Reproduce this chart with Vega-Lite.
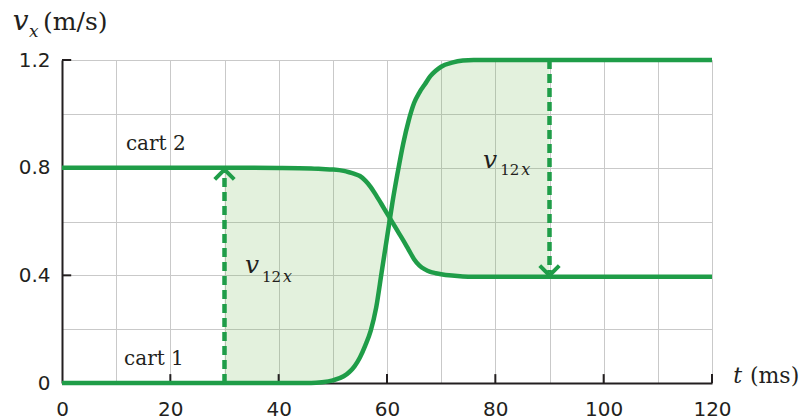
{
  "$schema": "https://vega.github.io/schema/vega-lite/v6.json",
  "width": 650,
  "height": 323,
  "autosize": "none",
  "padding": {"left": 62, "top": 60, "right": 89, "bottom": 36},
  "background": "white",
  "config": {
    "view": {"stroke": null},
    "text": {"font": "DejaVu Serif", "color": "#231f20", "align": "left", "baseline": "alphabetic"}
  },
  "datasets": {
    "carts": [
      {"t": 0, "cart1": 0, "cart2": 0.8},
      {"t": 10, "cart1": 0, "cart2": 0.8},
      {"t": 20, "cart1": 0, "cart2": 0.8},
      {"t": 30, "cart1": 0, "cart2": 0.8},
      {"t": 40, "cart1": 0, "cart2": 0.799},
      {"t": 46, "cart1": 0, "cart2": 0.797},
      {"t": 48, "cart1": 0.003, "cart2": 0.795},
      {"t": 50, "cart1": 0.01, "cart2": 0.793},
      {"t": 52, "cart1": 0.025, "cart2": 0.788},
      {"t": 53, "cart1": 0.04, "cart2": 0.783},
      {"t": 54, "cart1": 0.062, "cart2": 0.777},
      {"t": 55, "cart1": 0.095, "cart2": 0.769},
      {"t": 56, "cart1": 0.14, "cart2": 0.752},
      {"t": 57, "cart1": 0.195, "cart2": 0.728},
      {"t": 58, "cart1": 0.28, "cart2": 0.697},
      {"t": 59, "cart1": 0.41, "cart2": 0.664},
      {"t": 60, "cart1": 0.54, "cart2": 0.63},
      {"t": 61, "cart1": 0.67, "cart2": 0.597},
      {"t": 62, "cart1": 0.785, "cart2": 0.563},
      {"t": 63, "cart1": 0.89, "cart2": 0.53},
      {"t": 64, "cart1": 0.975, "cart2": 0.495},
      {"t": 65, "cart1": 1.04, "cart2": 0.46},
      {"t": 66, "cart1": 1.08, "cart2": 0.436},
      {"t": 67, "cart1": 1.11, "cart2": 0.422},
      {"t": 68, "cart1": 1.14, "cart2": 0.413},
      {"t": 69, "cart1": 1.16, "cart2": 0.408},
      {"t": 70, "cart1": 1.175, "cart2": 0.404},
      {"t": 72, "cart1": 1.19, "cart2": 0.399},
      {"t": 74, "cart1": 1.198, "cart2": 0.396},
      {"t": 76, "cart1": 1.2, "cart2": 0.395},
      {"t": 80, "cart1": 1.2, "cart2": 0.395},
      {"t": 90, "cart1": 1.2, "cart2": 0.395},
      {"t": 100, "cart1": 1.2, "cart2": 0.395},
      {"t": 110, "cart1": 1.2, "cart2": 0.395},
      {"t": 120, "cart1": 1.2, "cart2": 0.395}
    ],
    "xticks": [{"t": 20}, {"t": 40}, {"t": 60}, {"t": 80}, {"t": 100}, {"t": 120}],
    "yticks": [{"v": 0.4}, {"v": 0.8}, {"v": 1.2}],
    "one": [{}]
  },
  "layer": [
    {
      "data": {"name": "carts"},
      "transform": [{"filter": "datum.t >= 30 && datum.t <= 90"}],
      "mark": {"type": "area", "interpolate": "monotone", "fill": "#73b955", "fillOpacity": 0.2},
      "encoding": {
        "x": {
          "field": "t", "type": "quantitative",
          "scale": {"domain": [0, 120], "nice": false},
          "axis": {
            "title": null,
            "values": [0, 10, 20, 30, 40, 50, 60, 70, 80, 90, 100, 110, 120],
            "grid": true, "gridColor": "#c9c9c9", "gridWidth": 1,
            "domainColor": "#231f20", "domainWidth": 2,
            "ticks": false,
            "labelExpr": "datum.value % 20 === 0 ? datum.label : ''",
            "labelFont": "DejaVu Sans", "labelFontSize": 20, "labelColor": "#231f20",
            "labelPadding": 16, "labelFlush": false, "labelOverlap": false
          }
        },
        "y": {
          "field": "cart1", "type": "quantitative",
          "scale": {"domain": [0, 1.2], "nice": false},
          "axis": {
            "title": null,
            "values": [0, 0.2, 0.4, 0.6, 0.8, 1.0, 1.2],
            "grid": true, "gridColor": "#c9c9c9", "gridWidth": 1,
            "domainColor": "#231f20", "domainWidth": 2,
            "ticks": false,
            "format": ".1f",
            "labelExpr": "datum.value === 0 ? '0' : (indexof([0.4, 0.8, 1.2], datum.value) >= 0 ? datum.label : '')",
            "labelFont": "DejaVu Sans", "labelFontSize": 20, "labelColor": "#231f20",
            "labelPadding": 12, "labelFlush": false, "labelOverlap": false
          }
        },
        "y2": {"field": "cart2"}
      }
    },
    {
      "data": {"name": "xticks"},
      "mark": {"type": "rule", "color": "#231f20", "strokeWidth": 2},
      "encoding": {
        "x": {"field": "t", "type": "quantitative", "title": null},
        "y": {"datum": 0},
        "y2": {"datum": 0.033}
      }
    },
    {
      "data": {"name": "yticks"},
      "mark": {"type": "rule", "color": "#231f20", "strokeWidth": 2},
      "encoding": {
        "y": {"field": "v", "type": "quantitative", "title": null},
        "x": {"datum": 0},
        "x2": {"datum": 1.7}
      }
    },
    {
      "data": {"name": "carts"},
      "mark": {"type": "line", "interpolate": "monotone", "color": "#1f9d48", "strokeWidth": 4.5},
      "encoding": {
        "x": {"field": "t", "type": "quantitative", "title": null},
        "y": {"field": "cart1", "type": "quantitative", "title": null}
      }
    },
    {
      "data": {"name": "carts"},
      "mark": {"type": "line", "interpolate": "monotone", "color": "#1f9d48", "strokeWidth": 4.5},
      "encoding": {
        "x": {"field": "t", "type": "quantitative", "title": null},
        "y": {"field": "cart2", "type": "quantitative", "title": null}
      }
    },
    {
      "data": {"name": "one"},
      "mark": {"type": "rule", "color": "#1f9d48", "strokeWidth": 4.5, "strokeDash": [9, 5]},
      "encoding": {"x": {"datum": 30}, "y": {"datum": 0}, "y2": {"datum": 0.785}}
    },
    {
      "data": {"name": "one"},
      "mark": {"type": "rule", "color": "#1f9d48", "strokeWidth": 4.5, "strokeDash": [9, 5]},
      "encoding": {"x": {"datum": 90}, "y": {"datum": 1.2}, "y2": {"datum": 0.41}}
    },
    {
      "data": {"name": "one"},
      "mark": {"type": "point", "shape": "M-1,1L0,0L1,1", "filled": false, "stroke": "#1f9d48", "strokeWidth": 4, "size": 380, "opacity": 1},
      "encoding": {"x": {"datum": 30}, "y": {"datum": 0.793}}
    },
    {
      "data": {"name": "one"},
      "mark": {"type": "point", "shape": "M-1,-1L0,0L1,-1", "filled": false, "stroke": "#1f9d48", "strokeWidth": 4, "size": 380, "opacity": 1},
      "encoding": {"x": {"datum": 90}, "y": {"datum": 0.4}}
    },
    {
      "data": {"name": "one"},
      "mark": {"type": "text", "text": "cart 2", "fontSize": 20},
      "encoding": {"x": {"datum": 11.8}, "y": {"datum": 0.864}}
    },
    {
      "data": {"name": "one"},
      "mark": {"type": "text", "text": "cart 1", "fontSize": 20},
      "encoding": {"x": {"datum": 11.45}, "y": {"datum": 0.067}}
    },
    {
      "data": {"name": "one"},
      "mark": {"type": "text", "text": "v", "fontSize": 25, "fontStyle": "italic"},
      "encoding": {"x": {"datum": 33.8}, "y": {"datum": 0.408}}
    },
    {
      "data": {"name": "one"},
      "mark": {"type": "text", "text": "12", "fontSize": 15},
      "encoding": {"x": {"datum": 36.9}, "y": {"datum": 0.375}}
    },
    {
      "data": {"name": "one"},
      "mark": {"type": "text", "text": "x", "fontSize": 16, "fontStyle": "italic"},
      "encoding": {"x": {"datum": 40.8}, "y": {"datum": 0.375}}
    },
    {
      "data": {"name": "one"},
      "mark": {"type": "text", "text": "v", "fontSize": 25, "fontStyle": "italic"},
      "encoding": {"x": {"datum": 77.7}, "y": {"datum": 0.798}}
    },
    {
      "data": {"name": "one"},
      "mark": {"type": "text", "text": "12", "fontSize": 15},
      "encoding": {"x": {"datum": 80.9}, "y": {"datum": 0.773}}
    },
    {
      "data": {"name": "one"},
      "mark": {"type": "text", "text": "x", "fontSize": 16, "fontStyle": "italic"},
      "encoding": {"x": {"datum": 84.8}, "y": {"datum": 0.773}}
    },
    {
      "data": {"name": "one"},
      "mark": {"type": "text", "text": "v", "fontSize": 28, "fontStyle": "italic"},
      "encoding": {"x": {"datum": -9.1}, "y": {"datum": 1.31}}
    },
    {
      "data": {"name": "one"},
      "mark": {"type": "text", "text": "x", "fontSize": 17, "fontStyle": "italic"},
      "encoding": {"x": {"datum": -6.1}, "y": {"datum": 1.286}}
    },
    {
      "data": {"name": "one"},
      "mark": {"type": "text", "text": "(m/s)", "fontSize": 25},
      "encoding": {"x": {"datum": -3.5}, "y": {"datum": 1.31}}
    },
    {
      "data": {"name": "one"},
      "mark": {"type": "text", "text": "t", "fontSize": 22, "fontStyle": "italic"},
      "encoding": {"x": {"datum": 123.9}, "y": {"datum": 0}}
    },
    {
      "data": {"name": "one"},
      "mark": {"type": "text", "text": "(ms)", "fontSize": 22},
      "encoding": {"x": {"datum": 127.0}, "y": {"datum": 0}}
    }
  ]
}
